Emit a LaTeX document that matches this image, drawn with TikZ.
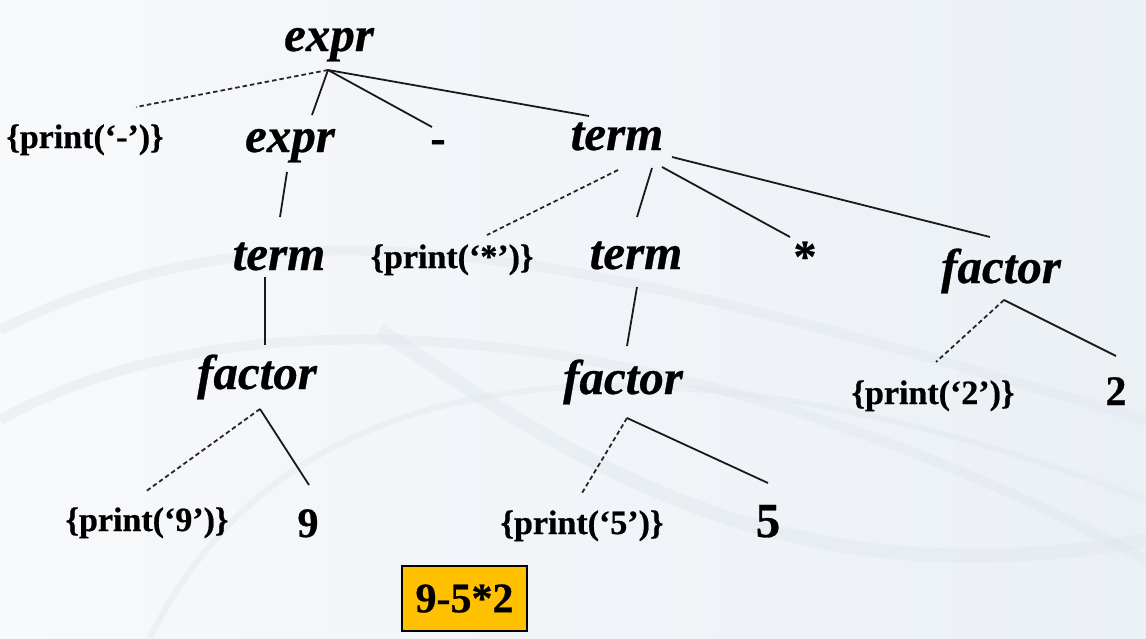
\documentclass[tikz,border=0pt]{standalone}
\usepackage{fontspec}
\setmainfont{Liberation Serif}[BoldFeatures={FakeBold=0.6},BoldItalicFeatures={FakeBold=0.6}]
\definecolor{bgL}{HTML}{F7F9FB}
\definecolor{bgR}{HTML}{EBF0F5}
\definecolor{sw}{HTML}{DFE6ED}
\definecolor{gold}{RGB}{255,192,0}
\begin{document}
\begin{tikzpicture}[x=1pt,y=-1pt,
  nt/.style={inner sep=0pt,anchor=base,font=\fontsize{49pt}{52pt}\selectfont\bfseries\itshape},
  act/.style={inner sep=0pt,anchor=base,font=\fontsize{34pt}{38pt}\selectfont\bfseries},
  tok/.style={inner sep=0pt,anchor=base,font=\fontsize{42pt}{46pt}\selectfont\bfseries},
  edge/.style={draw=black!90,line width=1.8pt},
  dedge/.style={draw=black!85,line width=1.8pt,dash pattern=on 4.5pt off 3pt},
  swoosh/.style={draw=sw,line width=10pt,opacity=0.4}
]
\useasboundingbox (0,0) rectangle (1146,638);
\shade[left color=bgL, right color=bgR] (0,0) rectangle (1146,638);
% faint background swooshes
\draw[swoosh] (0,330) .. controls (300,180) and (600,260) .. (1146,420);
\draw[swoosh] (0,420) .. controls (250,280) and (700,320) .. (1146,560);
\draw[swoosh,line width=6pt] (150,638) .. controls (300,330) and (700,330) .. (1146,500);
\draw[swoosh,line width=14pt] (380,330) .. controls (600,480) and (800,600) .. (1146,540);

% nodes
\node[nt]  (root)  at (329,51)  {expr};
\node[act] (pm)    at (85,148)  {\{print(‘-’)\}};
\node[nt]  (e2)    at (290,152) {expr};
\node[tok,font=\fontsize{46pt}{50pt}\selectfont\bfseries] (minus) at (438,153) {-};
\node[nt]  (t1)    at (617,150) {term};
\node[nt]  (t2)    at (279,270) {term};
\node[act] (pst)   at (452,268) {\{print(‘*’)\}};
\node[nt]  (t3)    at (636,269) {term};
\node[tok,font=\fontsize{46pt}{50pt}\selectfont\bfseries] (star) at (805,272) {*};
\node[nt]  (f3)    at (1001,283) {factor};
\node[nt]  (f1)    at (257,389) {factor};
\node[nt]  (f2)    at (623,394) {factor};
\node[act] (p2)    at (933,404) {\{print(‘2’)\}};
\node[tok] (two)   at (1116,405) {2};
\node[act] (p9)    at (147,531) {\{print(‘9’)\}};
\node[tok] (nine)  at (308,537) {9};
\node[act] (p5)    at (582,534) {\{print(‘5’)\}};
\node[tok,font=\fontsize{49pt}{52pt}\selectfont\bfseries] (five) at (768,537) {5};
\node[draw=black,line width=1.5pt,fill=gold,
      minimum width=125pt,minimum height=65pt,inner sep=0pt,
      font=\fontsize{42pt}{46pt}\selectfont\bfseries] (expr) at (464.5,598.5) {9-5*2};

% connector end points
\coordinate (rootJ) at (328,70);
\coordinate (pmE) at (136,107);
\coordinate (e2E) at (312,115);
\coordinate (minusE) at (432,127);
\coordinate (t1E) at (589,116);
\coordinate (e2S) at (287,172);
\coordinate (t2N) at (280,217);
\coordinate (t1a) at (618,170);
\coordinate (pstE) at (487,235);
\coordinate (t1b) at (652,168);
\coordinate (t3N) at (637,217);
\coordinate (t1c) at (662,167);
\coordinate (starE) at (790,237);
\coordinate (t1d) at (672,157);
\coordinate (f3N) at (990,237);
\coordinate (t2S) at (265,277);
\coordinate (f1N) at (265,345);
\coordinate (t3S) at (637,287);
\coordinate (f2N) at (627,346);
\coordinate (f1J) at (260,409);
\coordinate (p9E) at (145,492);
\coordinate (nineE) at (309,485);
\coordinate (f2J) at (627,418);
\coordinate (p5E) at (582,493);
\coordinate (fiveE) at (768,483);
\coordinate (f3J) at (1004,300);
\coordinate (p2E) at (936,362);
\coordinate (twoE) at (1116,356);

% connectors
\path[dedge] (rootJ) -- (pmE);
\path[edge] (rootJ) -- (e2E);
\path[edge] (rootJ) -- (minusE);
\path[edge] (rootJ) -- (t1E);
\path[edge] (e2S) -- (t2N);
\path[dedge] (t1a) -- (pstE);
\path[edge] (t1b) -- (t3N);
\path[edge] (t1c) -- (starE);
\path[edge] (t1d) -- (f3N);
\path[edge] (t2S) -- (f1N);
\path[edge] (t3S) -- (f2N);
\path[dedge] (f1J) -- (p9E);
\path[edge] (f1J) -- (nineE);
\path[dedge] (f2J) -- (p5E);
\path[edge] (f2J) -- (fiveE);
\path[dedge] (f3J) -- (p2E);
\path[edge] (f3J) -- (twoE);
\end{tikzpicture}
\end{document}
